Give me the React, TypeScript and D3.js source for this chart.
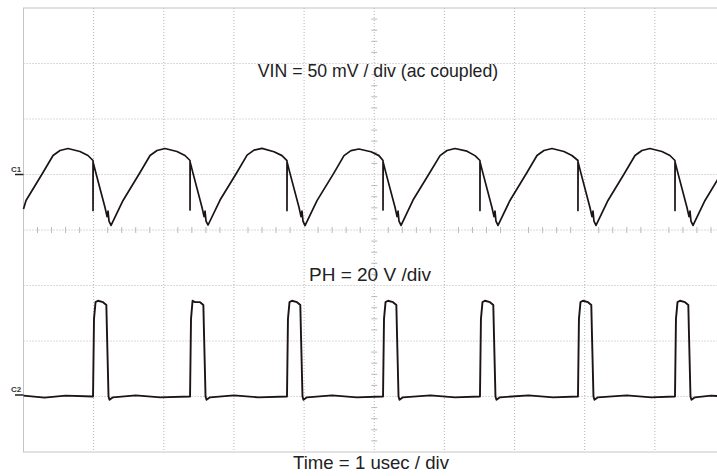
import * as d3 from 'd3';
import { useEffect, useRef } from 'react';

const WIDTH = 717;
const HEIGHT = 476;

// time axis, 1 usec / div
const TIME_DIVS = d3.range(0, 11);
// vertical divisions, screen centre = 0
const VERT_DIVS = d3.range(-4, 5);

const TITLE_VIN = 'VIN = 50 mV / div (ac coupled)';
const TITLE_PH = 'PH = 20 V /div';
const TITLE_TIME = 'Time = 1 usec / div';

// C1: input ripple, [usec, mV]
const vinTrace: [number, number][] = [
    [0, -31], [0.036, -23.4], [0.278, 1.8], [0.421, 17.1], [0.52, 21.6], [0.634, 23.4], [0.805, 20.7], [0.919, 17.1],
    [0.991, 12.6], [0.991, -32.4], [0.993, 10.8], [1.034, 0.9], [1.162, -29.7], [1.191, -38], [1.205, -33], [1.219, -42], [1.248, -45.9],
    [1.419, -23.4], [1.661, 1.8], [1.804, 17.1], [1.903, 21.6], [2.017, 23.4], [2.188, 20.7], [2.302, 17.1],
    [2.374, 12.6], [2.374, -32], [2.376, 11], [2.417, 1], [2.545, -29.7], [2.574, -38], [2.588, -33], [2.602, -42], [2.631, -45.5],
    [2.802, -23], [3.044, 2], [3.187, 17.5], [3.286, 22], [3.4, 23.5], [3.571, 20.5], [3.685, 17],
    [3.756, 12.5], [3.756, -32.5], [3.758, 11], [3.799, 1], [3.927, -29.5], [3.956, -38], [3.97, -33], [3.984, -42], [4.013, -46],
    [4.184, -23.5], [4.426, 1.5], [4.569, 17], [4.668, 21.5], [4.782, 23], [4.953, 20.5], [5.067, 17],
    [5.125, 12.6], [5.125, -32], [5.127, 11], [5.168, 1], [5.296, -29.5], [5.325, -38], [5.339, -33], [5.353, -42], [5.382, -45.9],
    [5.553, -23], [5.795, 2], [5.938, 17], [6.037, 21.6], [6.151, 23.4], [6.322, 21], [6.436, 17],
    [6.507, 12.6], [6.507, -32.4], [6.509, 11], [6.55, 1], [6.678, -29.7], [6.707, -38], [6.721, -33], [6.735, -42], [6.764, -45.9],
    [6.935, -23.4], [7.177, 1.8], [7.32, 17.1], [7.419, 21.6], [7.533, 23.4], [7.704, 20.7], [7.818, 17.1],
    [7.904, 12.6], [7.904, -32.4], [7.906, 11], [7.947, 1], [8.075, -29.7], [8.104, -38], [8.118, -33], [8.132, -42], [8.161, -45.9],
    [8.332, -23.4], [8.574, 1.8], [8.717, 17.1], [8.816, 21.6], [8.93, 23.4], [9.101, 20.7], [9.215, 17.1],
    [9.287, 12.6], [9.287, -32.4], [9.289, 11], [9.33, 1], [9.458, -29.7], [9.487, -38], [9.501, -33], [9.515, -42], [9.544, -45.9],
    [9.715, -23.4], [9.957, 1.8], [10, 5],
];

// C2: phase node, [usec, V]
const phTrace: [number, number][] = [
    [0, 0.3], [0.3, -0.4], [0.6, 0.3], [0.985, 0],
    [0.991, 0], [1.005, 28], [1.027, 34], [1.062, 34.5], [1.134, 34], [1.181, 33], [1.191, 22], [1.212, 0], [1.226, -1.2], [1.276, -0.3], [1.6, 0.4], [1.95, -0.3], [2.368, 0],
    [2.374, 0], [2.388, 28], [2.41, 34.5], [2.445, 34], [2.517, 34], [2.564, 33], [2.574, 22], [2.595, 0], [2.609, -1.2], [2.659, -0.3], [3.0, 0.4], [3.35, -0.3], [3.75, 0],
    [3.756, 0], [3.77, 28], [3.792, 34], [3.827, 34.5], [3.899, 34], [3.946, 33], [3.956, 22], [3.977, 0], [3.991, -1.2], [4.041, -0.3], [4.4, 0.4], [4.75, -0.3], [5.119, 0],
    [5.125, 0], [5.139, 28], [5.161, 34], [5.196, 34.5], [5.268, 34], [5.315, 33], [5.325, 22], [5.346, 0], [5.36, -1.2], [5.41, -0.3], [5.8, 0.4], [6.15, -0.3], [6.501, 0],
    [6.507, 0], [6.521, 28], [6.543, 34], [6.578, 34.5], [6.65, 34], [6.697, 33], [6.707, 22], [6.728, 0], [6.742, -1.2], [6.792, -0.3], [7.2, 0.4], [7.55, -0.3], [7.898, 0],
    [7.904, 0], [7.918, 28], [7.94, 34], [7.975, 34.5], [8.047, 34], [8.094, 33], [8.104, 22], [8.125, 0], [8.139, -1.2], [8.189, -0.3], [8.6, 0.4], [8.95, -0.3], [9.281, 0],
    [9.287, 0], [9.301, 28], [9.323, 34], [9.358, 34.5], [9.43, 34], [9.477, 33], [9.487, 22], [9.508, 0], [9.522, -1.2], [9.572, -0.3], [9.8, 0.3], [10, 0],
];

const App = () => {
    const svgRef = useRef<SVGSVGElement | null>(null);

    useEffect(() => {
        if (!svgRef.current) return;
        const svg = d3.select(svgRef.current);
        svg.selectAll('*').remove();

        const left = 23.5;
        const right = 725;
        const top = 8;
        const bottom = 452;

        const xScale = d3.scaleLinear().domain([0, 10]).range([left, right]);
        const divScale = d3.scaleLinear().domain([-4, 4]).range([bottom, top]);
        // C1 ground marker sits at +1 div, 50 mV/div
        const vinScale = d3.scaleLinear().domain([-250, 150]).range([bottom, top]);
        // C2 ground marker sits at -3 div, 20 V/div
        const phScale = d3.scaleLinear().domain([-20, 140]).range([bottom, top]);

        svg.append('rect').attr('width', WIDTH).attr('height', HEIGHT).attr('fill', '#ffffff');

        // dotted graticule
        const grid = svg.append('g').attr('stroke', '#b4b4b4').attr('stroke-width', 1).attr('stroke-dasharray', '1,2');
        grid.selectAll('.vline')
            .data(TIME_DIVS.slice(1, -1))
            .join('line')
            .attr('x1', (d) => xScale(d))
            .attr('x2', (d) => xScale(d))
            .attr('y1', top)
            .attr('y2', bottom);
        grid.selectAll('.hline')
            .data(VERT_DIVS.slice(1, -1))
            .join('line')
            .attr('x1', left)
            .attr('x2', right)
            .attr('y1', (d) => divScale(d))
            .attr('y2', (d) => divScale(d));

        // solid frame
        svg.append('rect')
            .attr('x', left)
            .attr('y', top)
            .attr('width', right - left)
            .attr('height', bottom - top)
            .attr('fill', 'none')
            .attr('stroke', '#c4c4c4')
            .attr('stroke-width', 1);

        // minor ticks on the centre axes
        const ticks = svg.append('g').attr('stroke', '#a8a8a8').attr('stroke-width', 0.8);
        const xMinor = d3.range(1, 50).map((i) => i / 5).filter((d) => d % 1 !== 0);
        ticks.selectAll('.xt')
            .data(xMinor)
            .join('line')
            .attr('x1', (d) => xScale(d))
            .attr('x2', (d) => xScale(d))
            .attr('y1', divScale(0) - 3)
            .attr('y2', divScale(0) + 3);
        const yMinor = d3.range(-19, 20).map((i) => i / 5).filter((d) => Math.abs(d % 1) > 0.01);
        ticks.selectAll('.yt')
            .data(yMinor)
            .join('line')
            .attr('x1', xScale(5) - 3)
            .attr('x2', xScale(5) + 3)
            .attr('y1', (d) => divScale(d))
            .attr('y2', (d) => divScale(d));

        // traces
        const vinLine = d3
            .line<[number, number]>()
            .x((d) => xScale(d[0]))
            .y((d) => vinScale(d[1]));
        const phLine = d3
            .line<[number, number]>()
            .x((d) => xScale(d[0]))
            .y((d) => phScale(d[1]));

        svg.append('path')
            .attr('d', vinLine(vinTrace))
            .attr('fill', 'none')
            .attr('stroke', '#1c1414')
            .attr('stroke-width', 1.7)
            .attr('stroke-linejoin', 'round');
        svg.append('path')
            .attr('d', phLine(phTrace))
            .attr('fill', 'none')
            .attr('stroke', '#1c1414')
            .attr('stroke-width', 1.9)
            .attr('stroke-linejoin', 'round');

        // channel ground markers
        const markers = [
            { label: 'C1', y: vinScale(0) },
            { label: 'C2', y: phScale(0) - 1.5 },
        ];
        markers.forEach((m) => {
            svg.append('line')
                .attr('x1', 15)
                .attr('x2', left)
                .attr('y1', m.y)
                .attr('y2', m.y)
                .attr('stroke', '#222')
                .attr('stroke-width', 1.5);
            svg.append('text')
                .attr('x', 11)
                .attr('y', m.y - 3)
                .style('font-family', '"Liberation Sans", Arial, sans-serif')
                .style('font-size', '8px')
                .style('font-weight', 'bold')
                .attr('fill', '#333')
                .text(m.label);
        });

        // annotations
        const labels = [
            { text: TITLE_VIN, x: 378, y: 77, size: 17.7 },
            { text: TITLE_PH, x: 370, y: 281, size: 19 },
            { text: TITLE_TIME, x: 371, y: 469, size: 18.6 },
        ];
        svg.selectAll('.ann')
            .data(labels)
            .join('text')
            .attr('x', (d) => d.x)
            .attr('y', (d) => d.y)
            .attr('text-anchor', 'middle')
            .attr('fill', '#222')
            .style('font-family', '"Liberation Sans", Arial, sans-serif')
            .style('font-size', (d) => `${d.size}px`)
            .text((d) => d.text);
    }, []);

    return (
        <svg
            ref={svgRef}
            width={WIDTH}
            height={HEIGHT}
            style={{ position: 'absolute', left: 0, top: 0, display: 'block' }}
        ></svg>
    );
};

export default App;
